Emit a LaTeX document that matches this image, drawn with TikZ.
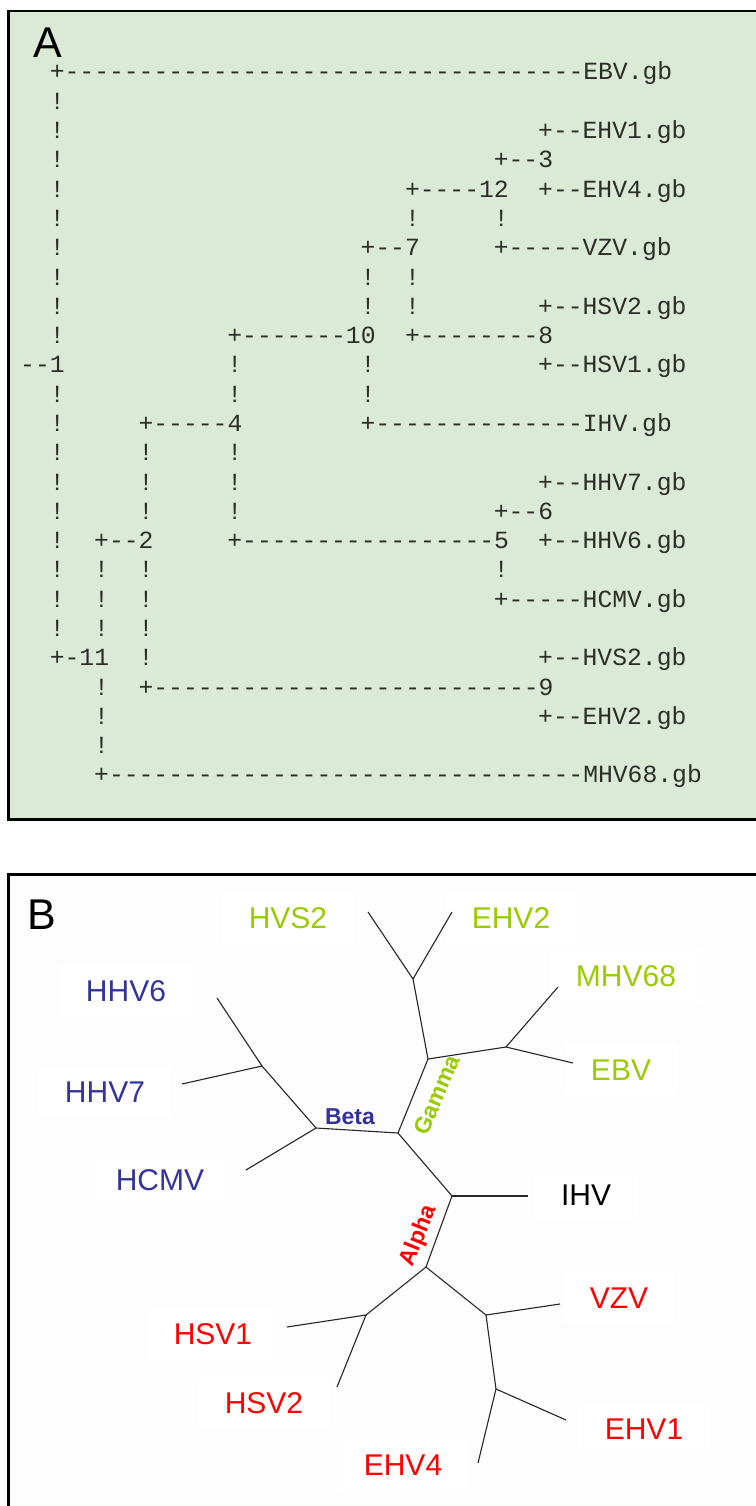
\documentclass[tikz,border=0pt]{standalone}
\usepackage{fontspec}
\setmainfont{Liberation Sans}
\setmonofont{Liberation Mono}
\usepackage{tikz}
\definecolor{panelgreen}{RGB}{219,234,215}
\definecolor{panelwhite}{RGB}{253,253,253}
\definecolor{asciigray}{RGB}{45,45,40}
\definecolor{gammagreen}{RGB}{153,204,0}
\definecolor{betablue}{RGB}{51,51,153}
\definecolor{alphared}{RGB}{255,0,0}

\begin{document}
\begin{tikzpicture}[x=1pt, y=-1pt,
    ascii/.style={font=\ttfamily\fontsize{24.7}{24.7}\selectfont, text=asciigray, anchor=base west, inner sep=0pt},
    virus/.style={font=\fontsize{30}{30}\selectfont, fill=white, inner xsep=26pt, inner ysep=15pt},
    clade/.style={font=\bfseries\fontsize{23}{23}\selectfont, inner sep=0pt},
    branch/.style={line width=1.1pt, black!85},
    panel/.style={font=\fontsize{43}{43}\selectfont, inner sep=0pt}]
        \useasboundingbox (0,0) rectangle (755,1506);

        % Draw the two panels
        \draw[line width=2.5pt, fill=panelgreen] (8.5,11) rectangle (780,819.5);
        \draw[line width=2.5pt, fill=panelwhite] (8.5,874.5) rectangle (780,1530);
        \node[panel] (labA) at (48,43) {A};
        \node[panel] (labB) at (42,915) {B};

        % Draw the text tree of panel A (one unit = one character cell)
        \begin{scope}[shift={(20,80)}, x=14.8pt, y=-29.29pt]
            % the ! columns
            \foreach \c/\rows in {2/{1,2,...,9,11,12,...,19}, 5/{17,18,19,21,22,23}, 8/{13,14,15,17,18,19,20},
                                  14/{10,11,13,14,15}, 23/{7,8,10,11}, 26/{5,7,8}, 32/{5,17}} {
                \foreach \r in \rows {
                    \node[ascii] (bar-\c-\r) at (\c,\r) {!};
                }
            }

            % the + and - runs
            \node[ascii] (ebv)  at (2,0)   {+-----------------------------------EBV.gb};
            \node[ascii] (ehv1) at (35,2)  {+--EHV1.gb};
            \node[ascii] (n3)   at (32,3)  {+--3};
            \node[ascii] (n12)  at (26,4)  {+----12};
            \node[ascii] (ehv4) at (35,4)  {+--EHV4.gb};
            \node[ascii] (n7)   at (23,6)  {+--7};
            \node[ascii] (vzv)  at (32,6)  {+-----VZV.gb};
            \node[ascii] (hsv2) at (35,8)  {+--HSV2.gb};
            \node[ascii] (n10)  at (14,9)  {+-------10};
            \node[ascii] (n8)   at (26,9)  {+--------8};
            \node[ascii] (n1)   at (0,10)  {--1};
            \node[ascii] (hsv1) at (35,10) {+--HSV1.gb};
            \node[ascii] (n4)   at (8,12)  {+-----4};
            \node[ascii] (ihv)  at (23,12) {+--------------IHV.gb};
            \node[ascii] (hhv7) at (35,14) {+--HHV7.gb};
            \node[ascii] (n6)   at (32,15) {+--6};
            \node[ascii] (n2)   at (5,16)  {+--2};
            \node[ascii] (n5)   at (14,16) {+-----------------5};
            \node[ascii] (hhv6) at (35,16) {+--HHV6.gb};
            \node[ascii] (hcmv) at (32,18) {+-----HCMV.gb};
            \node[ascii] (n11)  at (2,20)  {+-11};
            \node[ascii] (hvs2) at (35,20) {+--HVS2.gb};
            \node[ascii] (n9)   at (8,21)  {+--------------------------9};
            \node[ascii] (ehv2) at (35,22) {+--EHV2.gb};
            \node[ascii] (mhv)  at (5,24)  {+--------------------------------MHV68.gb};
        \end{scope}

        % Label the viruses of panel B
        \node[virus, text=gammagreen] (HVS2) at (288,918)  {HVS2};
        \node[virus, text=gammagreen] (EHV2) at (511,918)  {EHV2};
        \node[virus, text=gammagreen] (MHV)  at (626,976)  {MHV68};
        \node[virus, text=gammagreen] (EBV)  at (621,1070) {EBV};
        \node[virus, text=betablue]   (HHV6) at (126,991)  {HHV6};
        \node[virus, text=betablue]   (HHV7) at (105,1092) {HHV7};
        \node[virus, text=betablue]   (HCMV) at (160,1180) {HCMV};
        \node[virus, text=black]      (IHV)  at (586,1195) {IHV};
        \node[virus, text=alphared]   (VZV)  at (619,1298) {VZV};
        \node[virus, text=alphared]   (HSV1) at (213,1334) {HSV1};
        \node[virus, text=alphared]   (HSV2) at (264,1403) {HSV2};
        \node[virus, text=alphared]   (EHV1) at (644,1429) {EHV1};
        \node[virus, text=alphared]   (EHV4) at (403,1465) {EHV4};

        % Draw the unrooted tree
        \coordinate (cen)  at (398,1133);
        \coordinate (beta) at (316,1128);
        \coordinate (j67)  at (262,1066);
        \coordinate (gam)  at (428,1059);
        \coordinate (j29)  at (413,979);
        \coordinate (jeb)  at (506,1047);
        \coordinate (jihv) at (452,1196);
        \coordinate (alp)  at (426,1267);
        \coordinate (jhsv) at (366,1315);
        \coordinate (jvzv) at (486,1315);
        \coordinate (jehv) at (496,1389);
        \coordinate (e-hhv6) at (217,998);
        \coordinate (e-hhv7) at (182,1084);
        \coordinate (e-hcmv) at (246,1170);
        \coordinate (e-hvs2) at (368,912);
        \coordinate (e-ehv2) at (452,912);
        \coordinate (e-mhv)  at (558,987);
        \coordinate (e-ebv)  at (573,1063);
        \coordinate (e-ihv)  at (528,1196);
        \coordinate (e-vzv)  at (560,1304);
        \coordinate (e-hsv1) at (287,1327);
        \coordinate (e-hsv2) at (337,1387);
        \coordinate (e-ehv1) at (566,1420);
        \coordinate (e-ehv4) at (478,1463);

        \foreach \a/\b in {cen/beta, beta/e-hcmv, beta/j67, j67/e-hhv6, j67/e-hhv7,
                           cen/gam, gam/j29, j29/e-hvs2, j29/e-ehv2, gam/jeb, jeb/e-mhv, jeb/e-ebv,
                           cen/jihv, jihv/e-ihv, jihv/alp, alp/jhsv, jhsv/e-hsv1, jhsv/e-hsv2,
                           alp/jvzv, jvzv/e-vzv, jvzv/jehv, jehv/e-ehv1, jehv/e-ehv4} {
            \draw[branch] (\a) -- (\b);
        }

        % Label the three subfamilies
        \node[clade, text=betablue] (betaname) at (350,1117) {Beta};
        \node[clade, text=gammagreen, rotate=66.5] (gammaname) at (437,1095) {Gamma};
        \node[clade, text=alphared, rotate=68] (alphaname) at (419,1236) {Alpha};
    \end{tikzpicture}
\end{document}
